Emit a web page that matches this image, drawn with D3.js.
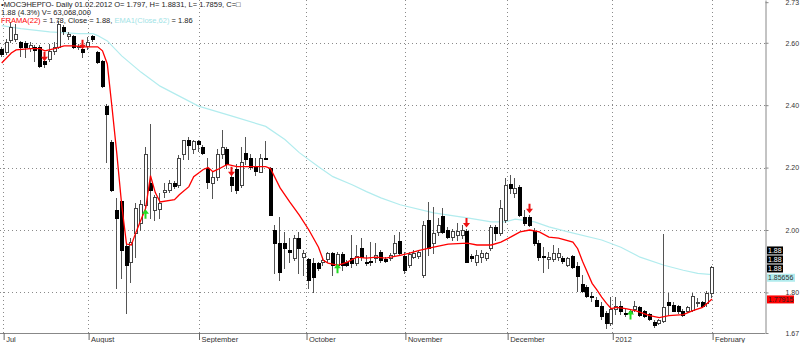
<!DOCTYPE html>
<html><head><meta charset="utf-8">
<script src="https://cdn.jsdelivr.net/npm/d3@7"></script>
<style>
html,body{margin:0;padding:0;background:#fff;}
svg{display:block;font-family:"Liberation Sans",Arial,sans-serif;}
</style></head>
<body><svg id="c" width="800" height="343"></svg>
<script>
// ---------- data ----------
const open  = [2.581,2.571,2.610,2.613,2.603,2.600,2.584,2.587,2.587,2.542,2.548,2.574,2.587,2.652,2.623,2.623,2.587,2.581,2.590,2.623,
2.571,2.542,2.397,2.281,2.065,2.094,1.948,1.897,1.990,2.023,2.081,2.152,2.065,2.068,2.123,2.129,2.152,2.145,2.242,2.287,
2.261,2.284,2.265,2.200,2.152,2.171,2.242,2.261,2.171,2.194,2.145,2.248,2.232,2.206,2.187,2.232,2.200,2.000,1.958,1.958,
1.935,1.910,1.974,1.913,1.906,1.894,1.894,1.897,1.906,1.926,1.887,1.923,1.897,1.910,1.894,1.942,1.897,1.900,1.910,1.929,
1.906,1.910,1.926,1.964,1.916,1.887,1.913,1.916,1.855,2.032,1.958,1.994,2.045,2.000,1.977,1.984,1.984,1.997,1.916,1.897,
1.913,1.910,1.942,2.010,1.990,2.032,2.148,2.119,2.139,2.042,2.042,1.997,1.958,1.916,1.906,1.906,1.913,1.910,1.887,1.916,
1.884,1.826,1.816,1.790,1.777,1.758,1.735,1.703,1.748,1.758,1.735,1.735,1.748,1.752,1.739,1.732,1.706,1.703,1.710,1.768,
1.761,1.755,1.742,1.742,1.745,1.765,1.768,1.765,1.797];
const high  = [2.587,2.613,2.668,2.661,2.606,2.606,2.603,2.594,2.594,2.545,2.597,2.603,2.671,2.658,2.635,2.626,2.597,2.590,2.619,2.626,
2.574,2.545,2.403,2.290,2.103,2.097,1.958,1.974,2.087,2.097,2.265,2.339,2.113,2.119,2.152,2.161,2.158,2.239,2.290,2.297,
2.290,2.290,2.271,2.232,2.187,2.258,2.319,2.265,2.177,2.210,2.265,2.297,2.242,2.232,2.242,2.284,2.203,2.016,2.042,1.994,
1.974,1.984,1.994,1.935,1.910,1.910,1.897,1.910,1.929,1.929,1.929,1.929,1.903,1.984,1.952,1.974,1.919,1.961,1.958,1.935,
1.913,1.926,1.984,1.994,1.929,1.929,1.935,1.935,2.029,2.090,2.074,2.039,2.071,2.010,2.003,2.023,2.016,2.003,1.922,1.935,
1.935,1.929,2.016,2.016,2.097,2.168,2.177,2.168,2.145,2.065,2.048,2.006,1.968,1.945,1.929,1.952,1.942,1.916,1.913,1.919,
1.897,1.855,1.823,1.800,1.784,1.768,1.742,1.784,1.784,1.774,1.748,1.748,1.774,1.758,1.745,1.735,1.713,1.716,1.987,1.797,
1.768,1.761,1.748,1.758,1.797,1.781,1.771,1.803,1.8831];
const low   = [2.558,2.565,2.603,2.606,2.558,2.555,2.574,2.542,2.523,2.523,2.542,2.565,2.584,2.629,2.613,2.584,2.581,2.555,2.581,2.606,
2.535,2.458,2.219,2.126,1.813,1.845,1.735,1.832,1.913,2.000,2.058,2.039,2.032,2.039,2.106,2.123,2.135,2.139,2.226,2.226,
2.248,2.252,2.242,2.135,2.103,2.161,2.232,2.200,2.126,2.119,2.139,2.210,2.194,2.177,2.187,2.226,2.048,1.861,1.839,1.877,
1.897,1.903,1.861,1.855,1.813,1.800,1.871,1.887,1.897,1.855,1.877,1.871,1.884,1.881,1.887,1.903,1.887,1.887,1.897,1.897,
1.897,1.903,1.919,1.919,1.861,1.881,1.910,1.910,1.848,1.919,1.926,1.984,1.990,1.974,1.968,1.968,1.974,1.897,1.900,1.887,
1.897,1.903,1.935,1.968,1.984,2.026,2.119,2.106,2.045,2.016,2.013,1.952,1.903,1.865,1.877,1.900,1.903,1.894,1.884,1.877,
1.806,1.800,1.784,1.774,1.755,1.716,1.687,1.697,1.732,1.732,1.726,1.729,1.742,1.723,1.720,1.713,1.690,1.700,1.706,1.732,
1.739,1.735,1.726,1.736,1.742,1.758,1.752,1.758,1.7859];
const close = [2.565,2.603,2.652,2.629,2.587,2.587,2.594,2.577,2.526,2.532,2.574,2.587,2.661,2.639,2.629,2.587,2.590,2.571,2.603,2.613,
2.539,2.461,2.371,2.129,2.039,1.935,1.887,1.961,2.071,2.084,2.242,2.129,2.106,2.087,2.129,2.152,2.142,2.232,2.287,2.271,
2.284,2.274,2.248,2.155,2.171,2.242,2.265,2.210,2.145,2.129,2.219,2.226,2.203,2.190,2.232,2.229,2.048,1.958,1.865,1.942,
1.929,1.974,1.942,1.926,1.839,1.848,1.877,1.903,1.926,1.887,1.923,1.887,1.887,1.894,1.916,1.913,1.894,1.897,1.919,1.903,
1.900,1.919,1.958,1.926,1.871,1.923,1.926,1.929,2.016,1.942,1.990,2.016,1.994,1.977,1.997,1.997,2.000,1.897,1.910,1.919,
1.926,1.926,2.010,1.990,2.071,2.145,2.135,2.135,2.048,2.023,2.016,1.958,1.913,1.913,1.913,1.926,1.926,1.900,1.910,1.881,
1.852,1.806,1.790,1.784,1.758,1.726,1.703,1.748,1.755,1.742,1.732,1.739,1.758,1.729,1.723,1.716,1.697,1.713,1.752,1.761,
1.742,1.739,1.729,1.752,1.787,1.768,1.758,1.797,1.88];

const framaIdx = [0,2,3,6,8,9,11,13,15,17,20,21,22,23,24,25,26,27,28,29,30,31,32,33,36,37,39,40,42,43,44,45,47,49,55,56,58,60,62,64,66,67,68,70,72,74,76,78,80,83,85,87,90,93,97,99,102,104,106,108,110,112,114,116,119,120,121,122,123,124,125,126,127,128,130,132,135,137,139,142,144,146,147,148];
const framaVal = [2.535,2.567,2.577,2.581,2.581,2.574,2.581,2.590,2.590,2.587,2.587,2.574,2.532,2.390,2.242,2.080,1.955,1.952,1.994,2.032,2.070,2.174,2.120,2.090,2.097,2.113,2.139,2.171,2.194,2.200,2.187,2.194,2.210,2.203,2.203,2.197,2.135,2.090,2.048,2.000,1.945,1.903,1.894,1.887,1.897,1.913,1.910,1.913,1.910,1.919,1.926,1.935,1.945,1.955,1.958,1.952,1.952,1.961,1.977,1.994,2.000,1.994,1.977,1.974,1.961,1.940,1.900,1.865,1.829,1.808,1.785,1.765,1.748,1.752,1.748,1.742,1.726,1.719,1.726,1.729,1.742,1.752,1.765,1.779];

const emaIdx = [0,4,10,16,19,20,22,25,29,33,37,41,48,55,59,62,66,69,73,76,79,83,90,97,102,105,107,111,114,118,125,129,133,138,142,145,148];
const emaVal = [2.655,2.645,2.635,2.629,2.629,2.623,2.606,2.558,2.506,2.461,2.429,2.397,2.365,2.332,2.290,2.248,2.203,2.171,2.145,2.123,2.103,2.081,2.055,2.039,2.026,2.026,2.035,2.026,2.010,1.994,1.968,1.945,1.913,1.887,1.871,1.861,1.857];

const sellIdx = [9,17,48,97,110];
const sellVal = [2.542,2.581,2.174,2.010,2.055];
const buyIdx  = [30,70,131];
const buyVal  = [2.065,1.890,1.742];

const monthLabels = ["Jul","August","September","October","November","December","2012","February"];
const monthIdx    = [0.3,18,41,63.4,84,105.3,127.2,148];
const yTickVals   = [2.73,2.60,2.40,2.20,2.00,1.80,1.67];
const yGridVals   = [2.60,2.40,2.20,2.00,1.80];

const lastClose = 1.88, lastEma = 1.85656, lastFrama = 1.77915;

// ---------- drawing ----------
const svg = d3.select("#c");
const plotR = 765, plotB = 333;
const x = d3.scaleLinear().domain([0,148]).range([1.7,712.1]);
const y = d3.scaleLinear().domain([1.67,2.737]).range([plotB,0]);

// grid
const g = svg.append("g");
g.selectAll(".hg").data(yGridVals).join("line")
  .attr("x1",0).attr("x2",plotR).attr("y1",d=>Math.round(y(d))+0.5).attr("y2",d=>Math.round(y(d))+0.5)
  .attr("stroke","#8a8a8a").attr("stroke-dasharray","1,3");
g.selectAll(".vg").data(monthIdx).join("line")
  .attr("x1",d=>Math.round(x(d))+0.5).attr("x2",d=>Math.round(x(d))+0.5).attr("y1",0).attr("y2",plotB)
  .attr("stroke","#8a8a8a").attr("stroke-dasharray","1,3");

// EMA
const line = d3.line().x(d=>x(d[0])).y(d=>y(d[1]));
svg.append("path").datum(emaIdx.map((d,i)=>[d,emaVal[i]]))
  .attr("d",line).attr("fill","none").attr("stroke","#b2ecee").attr("stroke-width",1.2);

// candles
const cg = svg.append("g");
const n = open.length;
for(let i=0;i<n;i++){
  const cx = Math.round(x(i));
  const up = close[i] >= open[i];
  cg.append("line").attr("x1",cx-0.5).attr("x2",cx-0.5)
    .attr("y1",Math.round(y(high[i]))).attr("y2",Math.round(y(low[i]))+1)
    .attr("stroke","#555").attr("stroke-width",1);
  const t = Math.round(y(Math.max(open[i],close[i])));
  const b = Math.round(y(Math.min(open[i],close[i])));
  const h = Math.max(1,b-t);
  cg.append("rect").attr("x",cx-1.5).attr("y",t+0.5).attr("width",3).attr("height",h)
    .attr("fill",up?"#fff":"#000").attr("stroke",up?"#444":"#000").attr("stroke-width",1);
}

// FRAMA
svg.append("path").datum(framaIdx.map((d,i)=>[d,framaVal[i]]))
  .attr("d",line).attr("fill","none").attr("stroke","#ff0000").attr("stroke-width",1.3);

// arrows
function downArrow(cx,ty){ return `M${cx-1},${ty-9}h2v5h2.5l-3.5,4.5l-3.5,-4.5h2.5z`; }
function upArrow(cx,ty){ return `M${cx-1},${ty+9}h2v-5h2.5l-3.5,-4.5l-3.5,4.5h2.5z`; }
svg.selectAll(".sell").data(sellIdx).join("path")
  .attr("d",(d,i)=>downArrow(Math.round(x(d))-0.5,y(sellVal[i]))).attr("fill","#ee1111");
svg.selectAll(".buy").data(buyIdx).join("path")
  .attr("d",(d,i)=>upArrow(Math.round(x(d))-0.5,y(buyVal[i]))).attr("fill","#22dd22");

// axes
const ya = d3.axisRight(y).tickValues(yTickVals).tickFormat(d3.format(".2f")).tickSize(3).tickSizeOuter(0).tickPadding(17);
const yg = svg.append("g").attr("transform",`translate(${plotR+0.5},0)`).call(ya);
yg.select(".domain").attr("stroke","#888");
yg.selectAll(".tick line").attr("stroke","#888");
yg.selectAll("text").attr("font-size",7).attr("fill","#333").attr("font-family","Liberation Sans, Arial");

svg.append("line").attr("x1",0).attr("x2",plotR).attr("y1",plotB+0.5).attr("y2",plotB+0.5).attr("stroke","#888");
const xa = d3.axisBottom(x).tickValues(monthIdx).tickFormat((d,i)=>monthLabels[i]).tickSize(7).tickSizeOuter(0);
const xg = svg.append("g").attr("transform",`translate(0.5,${plotB})`).call(xa);
xg.select(".domain").remove();
xg.selectAll(".tick line").attr("stroke","#666");
xg.selectAll("text").attr("text-anchor","start").attr("x",2).attr("y",8.5).attr("dy",0)
  .attr("font-size",7.5).attr("fill","#333").attr("font-family","Liberation Sans, Arial");

// price tags
function tag(cy,w,bg,fg,label){
  svg.append("rect").attr("x",plotR+2).attr("y",cy-4).attr("width",w).attr("height",8).attr("fill",bg);
  svg.append("text").attr("x",plotR+3).attr("y",cy+2.6).attr("font-size",7).attr("fill",fg).text(label);
}
const cy0 = y(lastClose);
const f2 = d3.format(".2f");
tag(cy0-17,16,"#000","#fff",f2(lastClose));
tag(cy0-8,16,"#000","#fff",f2(lastClose));
tag(cy0+1,16,"#000","#fff",f2(lastClose));
tag(y(lastEma)+3,28,"#b2ecee","#333",String(lastEma));
tag(y(lastFrama)+0.5,27,"#ff0000","#222",String(lastFrama));

// legend
const lg = svg.append("g").attr("font-size",7.5).attr("fill","#222");
lg.append("text").attr("x",1).attr("y",7).text("•МОСЭНЕРГО- Daily 01.02.2012 O= 1.797, H= 1.8831, L= 1.7859, C=□");
lg.append("text").attr("x",1).attr("y",15).text("1.88 (4.3%) V= 63,068,000");
const t3 = lg.append("text").attr("x",1).attr("y",23);
t3.append("tspan").attr("fill","#ff0000").text("FRAMA(22)");
t3.append("tspan").text(" = 1.78, Close = 1.88, ");
t3.append("tspan").attr("fill","#9fe3e6").text("EMA1(Close,62)");
t3.append("tspan").text(" = 1.86");
</script></body></html>
